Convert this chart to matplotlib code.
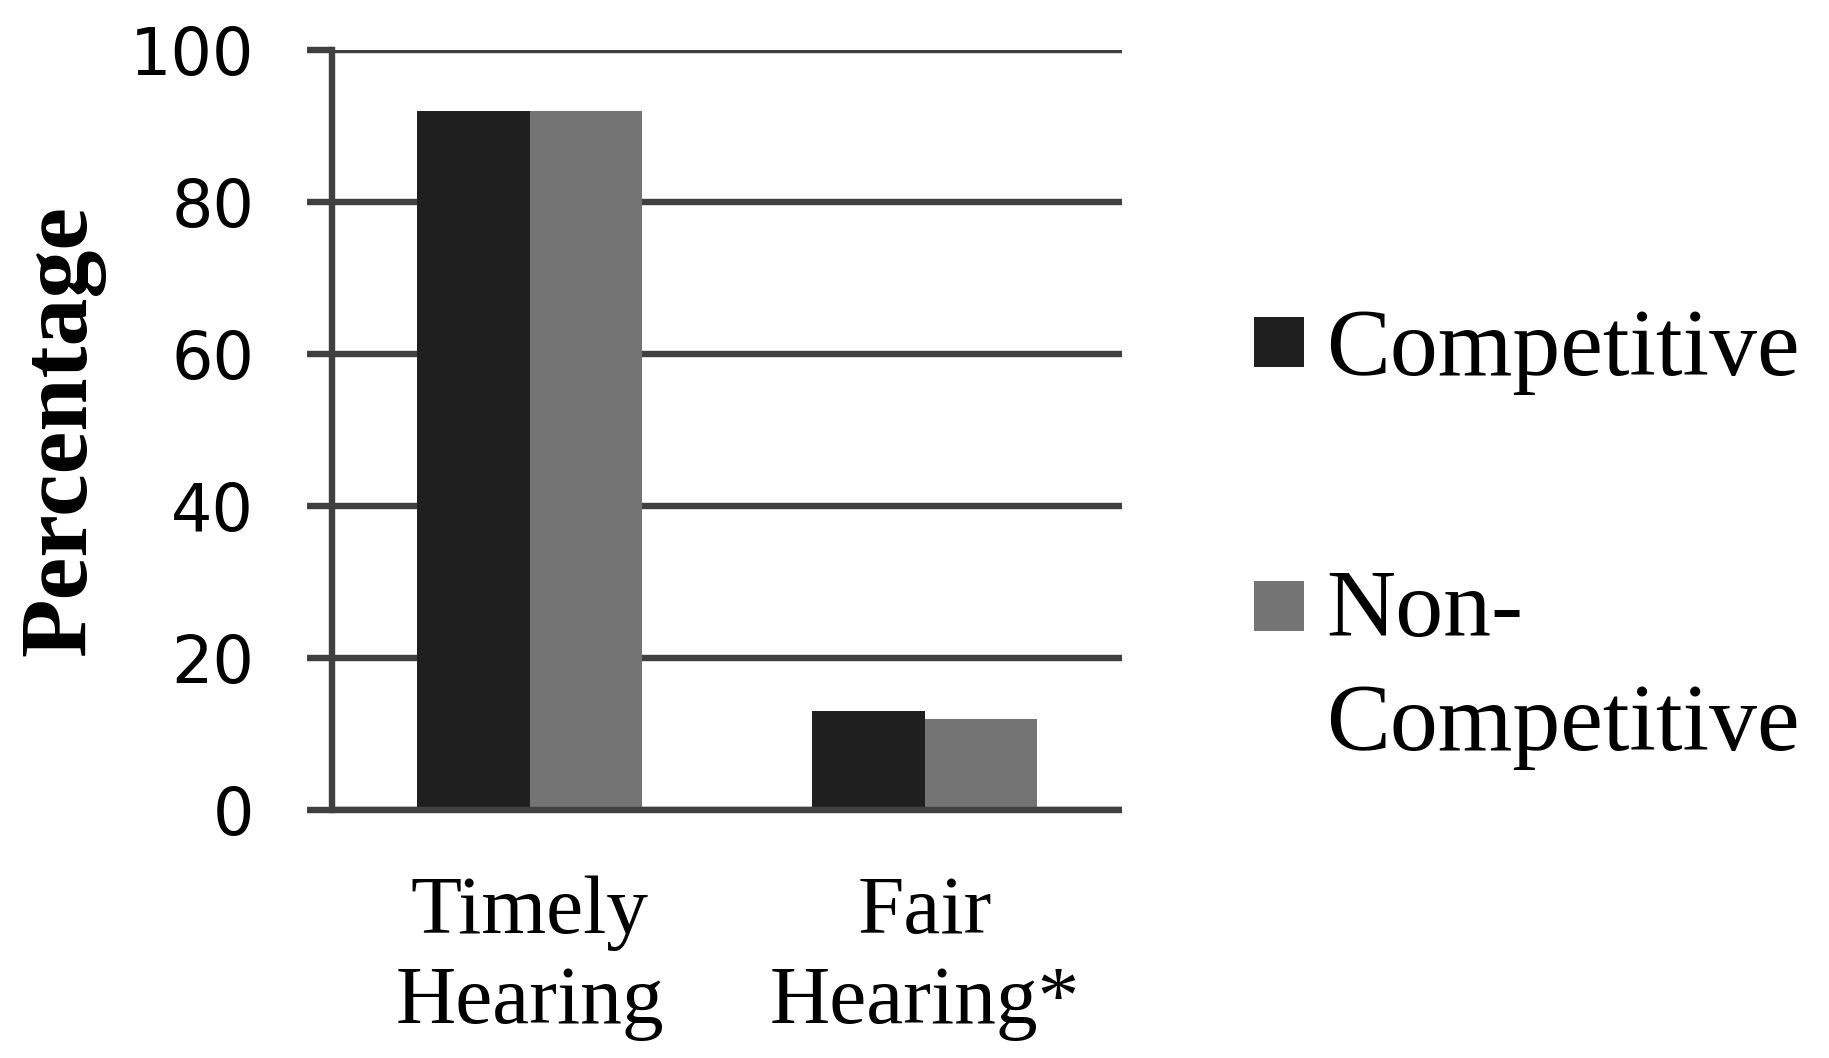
import matplotlib
matplotlib.use("Agg")
import matplotlib.pyplot as plt
from matplotlib.patches import Rectangle
import numpy as np

categories = ["Timely\nHearing", "Fair\nHearing*"]
series_names = ["Competitive", "Non-\nCompetitive"]
competitive = [92, 13]
non_competitive = [92, 12]
yticks = [0, 20, 40, 60, 80, 100]

colors = ["#1f1f1f", "#747474"]
line_color = "#404040"
W, H = 1829, 1058
DPI = 100

fig = plt.figure(figsize=(W / DPI, H / DPI), dpi=DPI)
ax = fig.add_axes([332 / W, (H - 810) / H, (1122 - 332) / W, (810 - 50) / H])

x = np.arange(len(categories))
bw = 0.286
ax.bar(x - bw / 2, competitive, width=bw, color=colors[0], zorder=3, linewidth=0)
ax.bar(x + bw / 2, non_competitive, width=bw, color=colors[1], zorder=3, linewidth=0)

ax.set_xlim(-0.5, 1.5)
ax.set_ylim(0, 100)
ax.set_yticks(yticks)
ax.set_yticklabels([str(v) for v in yticks])
ax.set_xticks(x)
ax.set_xticklabels(categories, family="Liberation Serif", fontsize=60, linespacing=1.25)

lw = 4.6
ax.yaxis.grid(True, color=line_color, linewidth=lw, zorder=1)
ax.set_axisbelow(True)
for s in ["top", "right"]:
    ax.spines[s].set_visible(False)
ax.spines["left"].set_color(line_color)
ax.spines["left"].set_linewidth(lw)
ax.spines["bottom"].set_color(line_color)
ax.spines["bottom"].set_linewidth(lw)
ax.spines["bottom"].set_zorder(5)
ax.spines["bottom"].set_capstyle("butt")

ax.tick_params(axis="y", length=18, width=lw, color=line_color, pad=38,
               labelsize=47, labelcolor="black")
ax.tick_params(axis="x", length=0, pad=47, labelcolor="black")
for t in ax.get_yticklabels():
    t.set_family("DejaVu Sans")

fig.text(62 / W, (H - 431) / H, "Percentage", rotation=90, ha="center", va="center",
         family="Liberation Serif", fontweight="bold", fontsize=69)

# legend (drawn manually; swatch aligned with the first text line)
leg_text_x = 1326 / W
leg_base = [375, 750]   # baseline of the last line of each entry
leg_sq = [317, 581]
for name, c, b, sq in zip(series_names, colors, leg_base, leg_sq):
    fig.patches.append(Rectangle((1254 / W, (H - sq - 50) / H), 50 / W, 50 / H,
                                 transform=fig.transFigure, facecolor=c, edgecolor="none"))
    fig.text(leg_text_x, (H - b) / H, name, ha="left", va="baseline",
             family="Liberation Serif", fontsize=69, linespacing=1.42)

fig.savefig("out.png", dpi=DPI)
